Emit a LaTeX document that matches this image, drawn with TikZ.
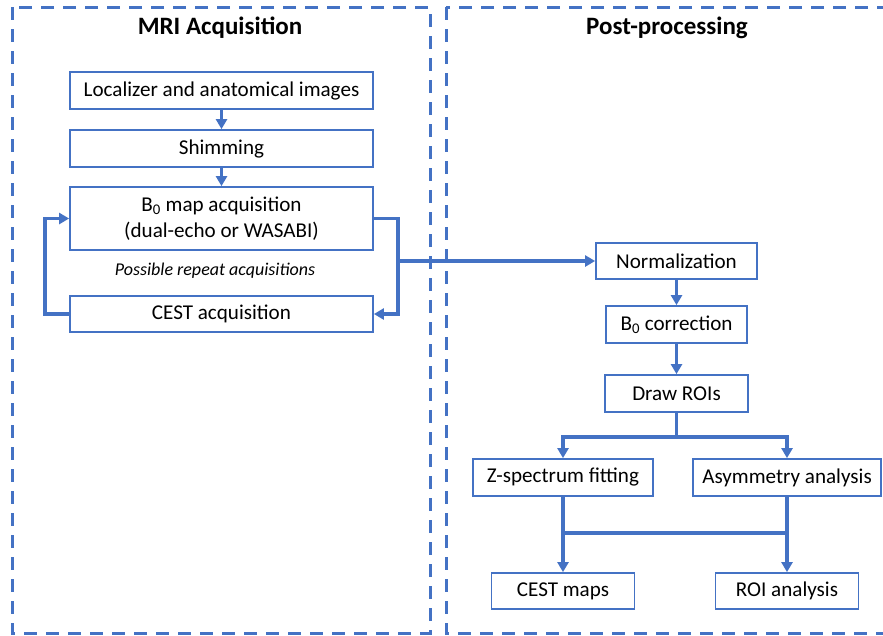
\documentclass[tikz,border=0pt]{standalone}
\usepackage{fontspec}
\setmainfont{Carlito}
\usetikzlibrary{arrows.meta}
\definecolor{oblue}{RGB}{68,114,196}
\begin{document}
\begin{tikzpicture}[x=1pt,y=-1pt,
  box/.style={draw=oblue,line width=1.8pt,fill=white,inner sep=0pt,font=\fontsize{21.1}{26.5}\selectfont,align=center},
  conn/.style={draw=oblue,line width=3.5pt},
  arr/.style={conn,-{Triangle[length=10pt,width=11pt]}},
  frame/.style={draw=oblue,line width=3pt,dash pattern=on 13pt off 9pt},
  ttl/.style={font=\fontsize{25}{30}\selectfont\bfseries}]
\useasboundingbox (0,0) rectangle (883,635);
\clip (0,0) rectangle (883,635);
\draw[frame] (12,7) rectangle (430,633);
\draw[frame] (446,7) rectangle (900,633);
\node[ttl] (t1) at (220,28) {MRI Acquisition};
\node[ttl] (t2) at (667,28) {Post-processing};
% left boxes
\node[box,minimum width=303pt,minimum height=37pt] (loc) at (221.5,90.5) {Localizer and anatomical images};
\node[box,minimum width=303pt,minimum height=37pt] (shim) at (221.5,148.5) {Shimming};
\node[box,minimum width=303pt,minimum height=63pt] (b0) at (221.5,218.5) {B\textsubscript{0} map acquisition\\(dual-echo or WASABI)};
\node[box,minimum width=303pt,minimum height=36pt] (cest) at (221.5,314) {CEST acquisition};
\node[font=\fontsize{18}{22}\selectfont\itshape] (rep) at (215,271) {Possible repeat acquisitions};
% right boxes
\node[box,minimum width=161pt,minimum height=36pt] (norm) at (676.5,261) {Normalization};
\node[box,minimum width=141pt,minimum height=37pt] (b0c) at (676.5,324.5) {B\textsubscript{0} correction};
\node[box,minimum width=143pt,minimum height=37pt] (roi) at (676.5,393.5) {Draw ROIs};
\node[box,minimum width=180pt,minimum height=37pt] (zfit) at (563,477.5) {Z-spectrum fitting};
\node[box,minimum width=188pt,minimum height=37pt] (asym) at (787,477.5) {Asymmetry analysis};
\node[box,minimum width=143pt,minimum height=36pt] (cmaps) at (563,591) {CEST maps};
\node[box,minimum width=143pt,minimum height=36pt] (roia) at (787,591) {ROI analysis};
% coordinates
\coordinate (lx) at (45,0);
\coordinate (rx) at (398,0);
\coordinate (rj) at (398,261);
\coordinate (sp) at (676.5,437);
\coordinate (mj) at (563,533);
\coordinate (mk) at (787,533);
% connectors
\draw[arr] (loc) -- (shim);
\draw[arr] (shim) -- (b0);
\draw[arr] (cest.west) -- (cest.west -| lx) |- (b0.west);
\draw[arr] (b0.east) -- (b0.east -| rx) |- (cest.east);
\draw[arr] (rj) -- (norm.west);
\draw[arr] (norm) -- (b0c);
\draw[arr] (b0c) -- (roi);
\draw[conn] (roi.south) -- (sp);
\draw[arr] (sp) -| (zfit.north);
\draw[arr] (sp) -| (asym.north);
\draw[arr] (zfit.south) -- (cmaps.north);
\draw[arr] (asym.south) -- (roia.north);
\draw[conn] (mj) -- (mk);
\end{tikzpicture}
\end{document}
